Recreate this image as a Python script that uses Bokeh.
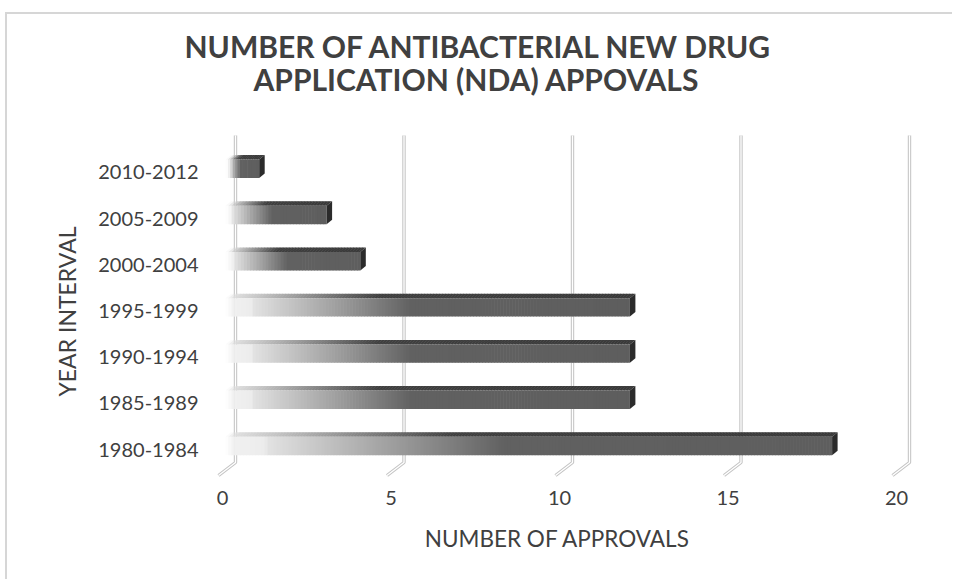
import numpy as np
from bokeh.plotting import figure
from bokeh.models import (Range1d, LinearAxis, FixedTicker, ColumnDataSource, Title)
from bokeh.embed import file_html
from bokeh.resources import INLINE

# ---------------- data ----------------
categories = ["1980-1984", "1985-1989", "1990-1994", "1995-1999",
              "2000-2004", "2005-2009", "2010-2012"]
approvals = [18, 12, 12, 12, 4, 3, 1]
x_ticks = [0, 5, 10, 15, 20]
title_lines = ["NUMBER OF ANTIBACTERIAL NEW DRUG", "APPLICATION (NDA) APPOVALS"]
x_title = "NUMBER OF APPROVALS"
y_title = "YEAR INTERVAL"

# ---------------- layout constants (page pixels) ----------------
PW, PH = 956, 583                         # page / window
OX, OY = 7, 14                            # canvas origin on the page (after chart border)
W, H = PW - OX - 2, PH - OY - 2           # canvas size
FL, FR, FT, FB = 198, 916, 132, 490       # frame edges (page coords)
X0_PX, PX_PER_X = 235.0, 33.7             # pixel of value 0 on back wall, px per unit
Y0_PX, PX_PER_Y = 449.0, 46.2             # pixel of first category, px per category

x_start = (FL - X0_PX) / PX_PER_X
x_end = (FR - X0_PX) / PX_PER_X
y_start = (Y0_PX - FB) / PX_PER_Y
y_end = (Y0_PX - FT) / PX_PER_Y


def dx(px):
    return px / PX_PER_X


def dy(px):          # px measured downward on screen
    return -px / PX_PER_Y


def ypix(py):        # page y pixel -> data y
    return (Y0_PX - py) / PX_PER_Y


TXT = "#404040"
FONT = "Lato"

p = figure(width=W, height=H, x_range=Range1d(x_start, x_end),
           y_range=Range1d(y_start, y_end), output_backend="svg",
           toolbar_location=None, title=None, x_axis_type=None, y_axis_type=None,
           min_border_left=FL - OX, min_border_right=OX + W - FR,
           min_border_top=FT - OY, min_border_bottom=OY + H - FB)
p.outline_line_color = None
p.background_fill_color = "white"
p.border_fill_color = "white"
p.styles = {"margin-left": "5px", "margin-top": "12px",
            "border-left": "2px solid #d6d6d6", "border-top": "2px solid #d6d6d6"}

# ---------------- gridlines (double line, 3D wall + floor) ----------------
g_top, g_bot = ypix(135), ypix(462)
gx, gy = [], []
for t in x_ticks:
    gx.append([t, t, t + dx(-17)])
    gy.append([g_top, g_bot, g_bot + dy(13)])
p.multi_line(gx, gy, line_color="#c4c4c4", line_width=3.4)
p.multi_line(gx, gy, line_color="white", line_width=1.3)

# ---------------- 3D gradient bars ----------------
FRONT_F = [0.0, 0.065, 0.07, 0.46, 1.0]
FRONT_G = [242, 236, 226, 97, 94]
TOP_F = [0.0, 0.07, 0.37, 1.0]
TOP_G = [228, 200, 64, 58]
DEPTH_X, DEPTH_Y = 5.5, 4.5


def gray(g):
    g = int(round(g))
    return "#%02x%02x%02x" % (g, g, g)


q = dict(left=[], right=[], top=[], bottom=[], color=[], alpha=[])
tp = dict(xs=[], ys=[], color=[], alpha=[])
sd = dict(xs=[], ys=[])

for i, v in enumerate(approvals):
    yc = i + 3.5 / PX_PER_Y
    half = 9.2 / PX_PER_Y
    yb, yt = yc - half, yc + half
    xl = dx(-10)
    xr = xl + v
    length_px = v * PX_PER_X
    n = max(14, int(length_px / 3))
    edges = np.linspace(xl, xr, n + 1)
    for k in range(n):
        a, b = edges[k], edges[k + 1]
        f = ((a + b) / 2 - xl) / v
        px_from_left = ((a + b) / 2 - xl) * PX_PER_X
        alpha = float(np.clip(px_from_left / 9.0, 0.05, 1.0))
        b2 = min(b + dx(0.6), xr)
        q["left"].append(a); q["right"].append(b2)
        q["bottom"].append(yb); q["top"].append(yt)
        q["color"].append(gray(np.interp(f, FRONT_F, FRONT_G)))
        q["alpha"].append(alpha)
        tp["xs"].append([a, b2, b2 + dx(DEPTH_X), a + dx(DEPTH_X)])
        tp["ys"].append([yt, yt, yt + DEPTH_Y / PX_PER_Y, yt + DEPTH_Y / PX_PER_Y])
        tp["color"].append(gray(np.interp(f, TOP_F, TOP_G)))
        tp["alpha"].append(alpha)
    sd["xs"].append([xr, xr + dx(DEPTH_X), xr + dx(DEPTH_X), xr])
    sd["ys"].append([yt, yt + DEPTH_Y / PX_PER_Y, yb + DEPTH_Y / PX_PER_Y, yb])

p.patches("xs", "ys", source=ColumnDataSource(tp), fill_color="color",
          fill_alpha="alpha", line_color=None)
p.quad(left="left", right="right", top="top", bottom="bottom",
       source=ColumnDataSource(q), fill_color="color", fill_alpha="alpha",
       line_color=None)
p.patches("xs", "ys", source=ColumnDataSource(sd), fill_color="#2b2b2b",
          line_color=None)

# ---------------- axes ----------------
def style_axis(ax, label_size):
    ax.axis_line_color = None
    ax.major_tick_line_color = None
    ax.minor_tick_line_color = None
    ax.major_tick_in = 0
    ax.major_tick_out = 0
    ax.major_label_text_font = FONT
    ax.major_label_text_font_size = "20px"
    ax.major_label_text_color = TXT
    ax.axis_label_text_font = FONT
    ax.axis_label_text_font_size = label_size
    ax.axis_label_text_font_style = "normal"
    ax.axis_label_text_color = TXT


yaxis = LinearAxis(ticker=FixedTicker(ticks=list(range(len(categories)))),
                   major_label_overrides={i: c for i, c in enumerate(categories)},
                   axis_label=y_title)
style_axis(yaxis, "23px")
yaxis.major_label_standoff = 0
yaxis.axis_label_standoff = 14
p.add_layout(yaxis, "left")

shift = dx(13)
p.extra_x_ranges = {"floor": Range1d(x_start + shift, x_end + shift)}
xaxis = LinearAxis(x_range_name="floor", ticker=FixedTicker(ticks=x_ticks),
                   axis_label=x_title)
style_axis(xaxis, "22.5px")
xaxis.major_label_standoff = 0
xaxis.axis_label_standoff = 17
p.add_layout(xaxis, "below")

# ---------------- title (two centred lines) ----------------
# measured rendered widths of the two lines at 30px Lato Bold
line_w = [588, 450]
title_cx = PW / 2
for txt, w, so in [(title_lines[1], line_w[1], 71), (title_lines[0], line_w[0], -81)]:
    p.add_layout(Title(text=txt, align="left", offset=title_cx - w / 2 - FL,
                       text_font=FONT, text_font_style="bold",
                       text_font_size="30px", text_color=TXT, standoff=so),
                 "above")

open("out.html", "w").write(file_html(p, INLINE))
